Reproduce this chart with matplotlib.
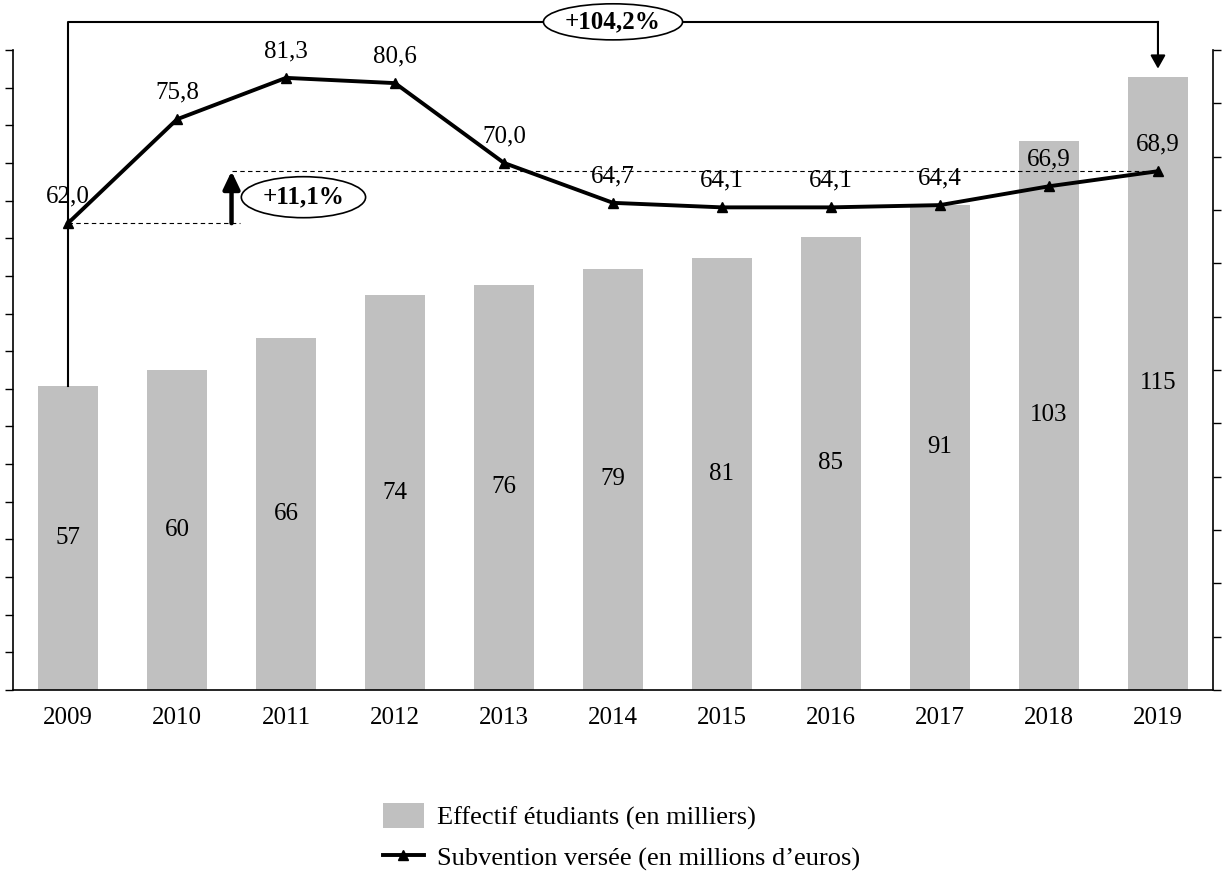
import numpy as np
import matplotlib.pyplot as plt
from matplotlib.patches import Patch
from matplotlib.lines import Line2D

plt.rcParams['font.family'] = ['Liberation Serif', 'DejaVu Serif']

years = ["2009", "2010", "2011", "2012", "2013", "2014", "2015", "2016", "2017", "2018", "2019"]
etudiants = [57, 60, 66, 74, 76, 79, 81, 85, 91, 103, 115]
subvention = [62.0, 75.8, 81.3, 80.6, 70.0, 64.7, 64.1, 64.1, 64.4, 66.9, 68.9]
evol_etudiants = "+104,2%"
evol_subvention = "+11,1%"

bar_color = "#c0c0c0"
fs = 18

fig = plt.figure(figsize=(12.27, 8.86), dpi=100)
ax = fig.add_axes([13 / 1227, 196 / 886, 1200 / 1227, 640 / 886])
ax2 = ax.twinx()

x = np.arange(len(years))

# barres (axe gauche)
ax.bar(x, etudiants, width=0.55, color=bar_color, zorder=1)
for xi, v in zip(x, etudiants):
    ax.text(xi, v / 2, str(v), ha="center", va="center", fontsize=fs, color="black")

ax.set_xlim(-0.505, len(years) - 0.495)
ax.set_ylim(0, 120)
ax.set_yticks(np.linspace(0, 120, 18))
ax.set_yticklabels([])
ax.set_xticks(x)
ax.set_xticklabels(years, fontsize=fs)
ax.tick_params(axis="x", length=0, pad=12)
ax.tick_params(axis="y", length=6, width=1, direction="out")
for s in ["top", "right"]:
    ax.spines[s].set_visible(False)

# courbe (axe droit)
ax2.plot(x, subvention, color="black", lw=2.8, marker="^", markersize=7, zorder=3)
for xi, v in zip(x, subvention):
    ax2.annotate(f"{v:.1f}".replace(".", ","), (xi, v), xytext=(0, 15),
                 textcoords="offset points", ha="center", va="baseline", fontsize=fs)
ax2.set_ylim(0, 85)
ax2.set_yticks(np.linspace(0, 85, 13))
ax2.set_yticklabels([])
ax2.tick_params(axis="y", length=6, width=1, direction="out")
for s in ["top", "left", "bottom"]:
    ax2.spines[s].set_visible(False)
for a in (ax, ax2):
    for s in a.spines.values():
        s.set_linewidth(1.2)

# accolade 2009 -> 2019 (effectifs)
ytop = ax.get_ylim()[1] * 1.044
ax.plot([0, 0, x[-1]], [etudiants[0], ytop, ytop], color="black", lw=1.5, clip_on=False, zorder=4)
ax.annotate("", xy=(x[-1], etudiants[-1] + 1.5), xytext=(x[-1], ytop),
            arrowprops=dict(arrowstyle="-|>,head_width=0.45,head_length=0.8", lw=1.5,
                            color="black", shrinkA=0, shrinkB=0), annotation_clip=False)
ax.text(x[-1] / 2, ytop, evol_etudiants, ha="center", va="center", fontsize=fs, fontweight="bold",
        bbox=dict(boxstyle="ellipse,pad=0.05", fc="white", ec="black", lw=1.2), zorder=5, clip_on=False)

# evolution de la subvention
ax2.plot([0, 1.58], [subvention[0], subvention[0]], color="black", lw=0.8, ls=(0, (4, 3)), zorder=2)
ax2.plot([1.5, x[-1]], [subvention[-1], subvention[-1]], color="black", lw=0.8, ls=(0, (4, 3)), zorder=2)
ax2.annotate("", xy=(1.5, subvention[-1]), xytext=(1.5, subvention[0]),
             arrowprops=dict(arrowstyle="-|>,head_width=0.5,head_length=1.05", lw=3.2,
                             color="black", shrinkA=0, shrinkB=0))
ax2.text(2.16, (subvention[0] + subvention[-1]) / 2, evol_subvention, ha="center", va="center",
         fontsize=fs, fontweight="bold",
         bbox=dict(boxstyle="ellipse,pad=0.12", fc="white", ec="black", lw=1.2), zorder=5)

# legende
handles = [Patch(facecolor=bar_color, edgecolor="none"),
           Line2D([], [], color="black", lw=2.8, marker="^", markersize=7)]
labels = ["Effectif étudiants (en milliers)", "Subvention versée (en millions d’euros)"]
fig.legend(handles, labels, loc="center left", bbox_to_anchor=(0.312, 0.0553), frameon=False,
           fontsize=19, handlelength=1.55, handleheight=1.1, handletextpad=0.5,
           labelspacing=0.55, borderpad=0, borderaxespad=0)

fig.savefig("out.png", dpi=100)
